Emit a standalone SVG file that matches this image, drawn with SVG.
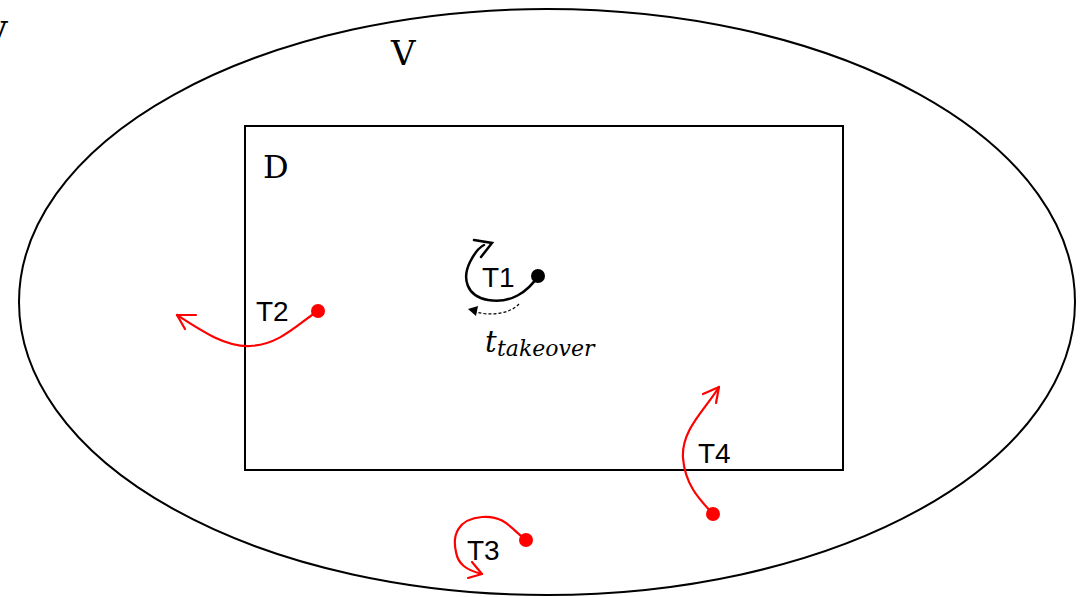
<svg xmlns="http://www.w3.org/2000/svg" width="1083" height="597" viewBox="0 0 1083 597">
<style>
.lbl{font-family:"Liberation Sans",Arial,sans-serif;font-size:28px;fill:#000}
.math{font-family:"DejaVu Serif","Liberation Serif",serif;fill:#000}
.blk{fill:none;stroke:#000;stroke-width:2.5;stroke-linecap:round}
.red{fill:none;stroke:#f00;stroke-width:2.2;stroke-linecap:round}
</style>
<rect width="1083" height="597" fill="#fff"/>
<g id="region-V">
<ellipse cx="547" cy="302" rx="528" ry="293" fill="none" stroke="#000" stroke-width="2"/>
<text class="math" x="391" y="65" font-size="34">V</text>
</g>
<text class="math" x="-17" y="46" font-size="34">V</text>
<g id="region-D">
<rect x="245" y="126" width="598" height="344" fill="none" stroke="#000" stroke-width="2"/>
<text class="math" x="263" y="178" font-size="32">D</text>
</g>
<g id="connectors">
<path class="blk" d="M538,276 C528,292 510,304 488,300 C466,296 462,278 470,262 C474,254 478,248 484,245"/>
<path class="blk" d="M474,240 L492,243 L481,257"/>
<path d="M519,304 C510,314 490,316 476,312" fill="none" stroke="#000" stroke-width="1.2" stroke-dasharray="3,2"/>
<path d="M468,309 L478,306 L476,316 Z" fill="#000"/>
<path class="red" d="M318,311 C300,322 280,345 250,346 C225,347 200,330 177,315"/>
<path class="red" d="M177,315 L196,315 M177,315 L185,329"/>
<path class="red" d="M526,540 C512,530 505,515 482,517 C458,519 452,535 456,552 C458,564 466,570 482,574"/>
<path class="red" d="M482,574 L468,578 M482,574 L472,562"/>
<path class="red" d="M713,514 C700,500 685,485 683,458 C681,430 705,410 719,387"/>
<path class="red" d="M719,387 L703,394 M719,387 L716,403"/>
</g>
<g id="T1">
<circle cx="538" cy="276" r="7" fill="#000"/>
<text class="lbl" x="482" y="287">T1</text>
<text class="math" x="485" y="352" font-size="29" font-style="italic">t</text>
<text class="math" x="497" y="356" font-size="22" font-style="italic">takeover</text>
</g>
<g id="T2">
<circle cx="318" cy="311" r="7" fill="#f00"/>
<text class="lbl" x="256" y="321">T2</text>
</g>
<g id="T3">
<circle cx="526" cy="540" r="7" fill="#f00"/>
<text class="lbl" x="467" y="560">T3</text>
</g>
<g id="T4">
<circle cx="713" cy="514" r="7" fill="#f00"/>
<text class="lbl" x="698" y="463">T4</text>
</g>
</svg>
